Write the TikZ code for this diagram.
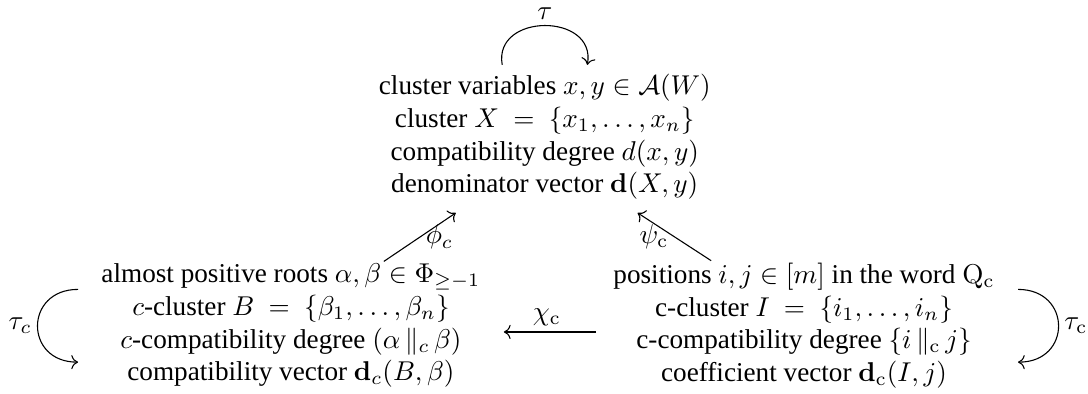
\documentclass[tikz,border=0pt]{standalone}
\usepackage[no-math]{fontspec}
\setmainfont{Liberation Serif}
\usepackage{amssymb}
\usetikzlibrary{arrows.meta,positioning}
\tikzset{
  cyclefig/.style={>=To,
    every node/.style={align=center}},
  setnode/.style={inner sep=3.3pt},
  maplabel/.style={inner sep=2pt},
}

\begin{document}
\begin{tikzpicture}[cyclefig]
    \useasboundingbox (-7.04,-3.32) rectangle (7.02,1.77);
    \node[setnode] (clus) at (0,0)
      {cluster variables $x,y\in\mathcal{A}(W)$\\
       cluster $X\ =\ \{x_1,\dots,x_n\}$\\
       compatibility degree $d(x,y)$\\
       denominator vector $\mathbf{d}(X,y)$};
    \node[setnode] (roots) at (-3.28,-2.44)
      {almost positive roots $\alpha,\beta\in\Phi_{\geq-1}$\\
       $c$-cluster $B\ =\ \{\beta_1,\dots,\beta_n\}$\\
       $c$-compatibility degree $(\alpha\,\|_c\,\beta)$\\
       compatibility vector $\mathbf{d}_c(B,\beta)$};
    \node[setnode] (word) at (3.35,-2.44)
      {positions $i,j\in[m]$ in the word $\mathrm{Q}_{\mathrm{c}}$\\
       c-cluster $I\ =\ \{i_1,\dots,i_n\}$\\
       c-compatibility degree $\{i\,\|_{\mathrm{c}}\,j\}$\\
       coefficient vector $\mathbf{d}_{\mathrm{c}}(I,j)$};

    \draw[->] ([xshift=-0.55cm]clus.north) to[out=100,in=80,looseness=1.6]
      node[above,maplabel] {$\tau$} ([xshift=0.55cm]clus.north);
    \draw[->] ([xshift=-0.18cm,yshift=0.47cm]roots.west) to[out=180,in=180,looseness=1.9]
      node[left,maplabel] {$\tau_c$} ([xshift=-0.18cm,yshift=-0.47cm]roots.west);
    \draw[->] ([xshift=0.18cm,yshift=0.47cm]word.east) to[out=0,in=0,looseness=1.9]
      node[right,maplabel] {$\tau_{\mathrm{c}}$} ([xshift=0.18cm,yshift=-0.47cm]word.east);

    \draw[->] ([xshift=1.2cm,yshift=-0.09cm]roots.north) --
      node[midway,right,maplabel] {$\phi_c$} ([xshift=-1.15cm,yshift=-0.05cm]clus.south);
    \draw[->] ([xshift=-1.2cm,yshift=-0.09cm]word.north) --
      node[midway,left,maplabel] {$\psi_{\mathrm{c}}$} ([xshift=1.2cm,yshift=-0.05cm]clus.south);
    \draw[->,shorten <=0.1cm,shorten >=0.18cm] ([yshift=-0.08cm]word.west) --
      node[midway,above,maplabel] {$\chi_{\mathrm{c}}$} ([yshift=-0.08cm]roots.east);
  \end{tikzpicture}
\end{document}
